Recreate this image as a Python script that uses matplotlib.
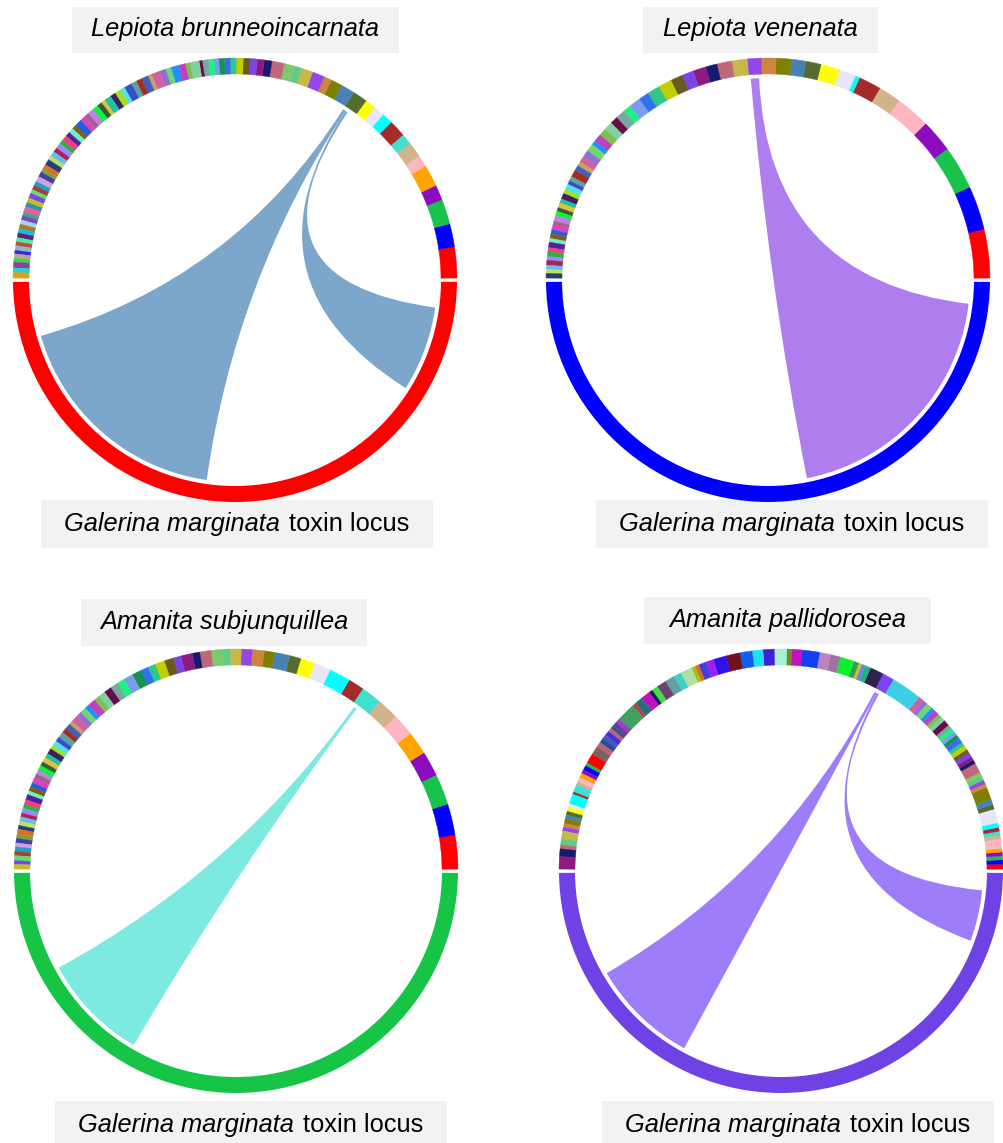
import numpy as np
import matplotlib
matplotlib.use("Agg")
import matplotlib.pyplot as plt
from matplotlib.patches import Wedge, Rectangle, PathPatch
from matplotlib.path import Path

plt.rcParams["font.family"] = ["Liberation Sans", "DejaVu Sans"]

W, H = 1004, 1143

# ---------------------------------------------------------------- labels
species = ["Lepiota brunneoincarnata", "Lepiota venenata",
           "Amanita subjunquillea", "Amanita pallidorosea"]
locus_italic = "Galerina marginata"
locus_plain = "toxin locus"

# ---------------------------------------------------------------- contig colours
HEAD = ["#FF0000", "#0000FF", "#19C24A", "#8B0BBF", "#FFA500", "#FFB6C1",
        "#D2B48C", "#40E0D0", "#A52A2A", "#00FFFF", "#E6E6FA", "#FFFF00",
        "#556B2F", "#4682B4", "#808000", "#CD853F", "#9347E8", "#C8B84A",
        "#5FCB85", "#7CCB68", "#C0687A", "#191970", "#8E1A80", "#7A44E6",
        "#6B5A1F", "#BFCF00", "#30C88A", "#3370F0", "#1A9050", "#7A9CF0",
        "#20F080", "#78A8A0", "#6A0A4A"]
TAIL = ["#80D0A0", "#7CC050", "#C040C0", "#1E90FF", "#70D870", "#9070D0",
        "#D060A0", "#C8A060", "#4060C0", "#A03020", "#60A0A0", "#3050D0",
        "#50E0F0", "#A0E020", "#402060", "#20C0A0", "#E0C040", "#306030",
        "#10F040", "#C080E0", "#A06090", "#E040C0", "#2060E0", "#806010",
        "#70F0C0", "#5020A0", "#F04080", "#30B040", "#9090F0", "#B02060",
        "#60C0F0", "#C0E060", "#204080", "#E07020", "#80A040", "#4040A0",
        "#D0A0E0", "#20A0C0", "#A04040", "#60E060", "#8040F0", "#C0C020",
        "#3090B0", "#E060A0", "#50A080", "#7050C0", "#B0D0F0", "#A08030",
        "#10C0E0", "#602080", "#40F0A0", "#D04040", "#80C0C0", "#4020E0",
        "#C0A0A0", "#30E030", "#9040A0", "#20D0D0", "#E0A010", "#5060F0"]

# ---------------------------------------------------------------- contig lengths
len_brunneo = [8, 6, 6.4, 4, 5.6, 3, 4, 2.8, 4.4, 2.8, 2.8, 2.8, 3.8, 3.5, 3,
               2, 3.2, 3, 2, 2.5, 3.2, 2, 1.8, 1.8, 1.8, 1.8, 1.5, 1.5, 1.5,
               1.2, 1.5, 1.5, 0.8,
               2.4, 1.2, 1.8, 2.0, 1.4, 1.6, 2.2, 1.0, 1.8, 1.5,
               1.4, 2.0, 1.2, 1.6, 1.4, 1.8, 1.0, 1.3, 1.6, 1.5,
               1.2, 1.4, 1.8, 1.1, 1.3, 1.2, 1.5, 1.0, 1.4, 1.2,
               1.3, 1.1, 1.5, 1.2, 1.0, 1.3, 1.4, 1.1, 1.2, 1.0,
               1.3, 1.2, 1.1, 1.4, 1.0, 1.2, 1.1, 1.3, 1.0, 1.2,
               1.1, 1.0, 1.2, 0.9, 1.1, 1.0, 1.5, 1.2, 1.4]
idx_brunneo = list(range(33))

len_venenata = [12.7, 11.5, 11.4, 8.6, 9, 5.9, 5.9, 1.2, 4.3, 5, 4, 3.7, 4,
                3.8, 3.7, 4, 3.9, 3, 3.4, 3, 3.2, 3.5, 3.3, 2.7, 3, 2, 2.5, 2,
                2.2, 2.0, 2.0, 1.2, 2.0, 1.8, 1.6, 1.2, 1.4, 1.8, 1.2, 1.0,
                1.4, 1.2, 1.5, 1.1, 1.3, 1.0, 1.2, 1.4, 1.0, 1.3, 1.1, 1.2,
                1.0, 1.4, 1.1, 1.2, 1.0, 1.3, 1.1, 1.0, 1.2]
idx_venenata = [0, 1, 2, 3, 5, 6, 8, 9, 10, 11, 12, 13, 14, 15, 16, 17, 20,
                21, 22, 23, 24, 25, 26, 27, 29, 30, 31, 32]

len_subjunq = [8.9, 8.2, 8.1, 6.6, 6.1, 5.8, 5.7, 5.4, 4.2, 5.6, 4.3, 3.8, 3.0,
               4.0, 2.7, 3.1, 2.9, 2.9, 2.1, 2.8, 3.0, 2.0, 3.0, 2.0, 2.5, 2.5,
               2.0, 2.0, 2.5, 2.5, 2.0, 2.0, 2.0,
               1.8, 1.5, 2.0, 1.2, 1.6, 1.4, 1.8, 1.0, 1.5, 1.3,
               1.6, 1.2, 1.4, 1.0, 1.5, 1.2, 1.3, 1.1, 1.4, 1.0,
               1.2, 1.3, 1.1, 1.2, 1.0, 1.4, 1.2, 1.1, 1.3, 1.0,
               1.2, 1.1, 1.0, 1.3, 1.1, 1.2, 1.0, 1.2, 1.1, 1.3,
               1.0, 1.2]
idx_subjunq = list(range(33))

len_pallido_a = [1.3, 1.1, 1.0, 1.0, 1.0, 2.4, 1.0, 1.0, 1.0, 1.2, 3.6, 1.2,
                 1.4, 3.3, 1.0, 1.0, 1.2, 1.0, 2.6, 1.0, 1.0, 1.2, 1.0, 1.2,
                 1.0, 1.4, 1.0, 1.0, 1.2, 1.0, 1.6,
                 1.2, 1.0, 1.4, 1.0, 1.6, 1.2, 1.4]
idx_pallido_a = [0, 1, 2, 3, 4, 5, 6, 7, 8, 9, 10, 12, 13, 14, 15, 16, 18, 19,
                 20, 21, 22, 23, 24, 25, 26, 27, 28, 29, 30, 31, 32]
len_pallido_m = [8, 3, 3.5, 1.5, 1, 0.8, 1.3, 3.7, 2.5, 2.9, 4.5, 2.7, 1.3,
                 3.2, 2.9, 2.8, 3.2, 3.6, 3.4, 2, 2, 1, 1, 3, 2, 2.5, 2.5, 1.6,
                 0.9, 2.5, 2, 1, 4.8, 1.2, 1, 1, 1, 1.2, 1.2, 1.2, 1.4, 2.2]
col_pallido_m = ["#3ECFE8", "#7A44F0", "#2E2050", "#20B080", "#7080F0",
                 "#C8C030", "#30A050", "#10EE30", "#A070A0", "#C080C0",
                 "#1040F0", "#C010C0", "#6B8E23", "#A8F0D8", "#4020D0",
                 "#20E0F0", "#1060F0", "#701020", "#3010F0", "#A020F0",
                 "#4040E0", "#E07010", "#A0C020", "#B0E0A0", "#40D0C8",
                 "#60A0A0", "#704070", "#40E040", "#1A1A60", "#C010C0",
                 "#207080", "#C04040", "#40A060", "#A040C0", "#6040A0",
                 "#405080", "#C06080", "#4030E0", "#5050C0", "#2050A0",
                 "#C06070", "#806060"]
len_pallido_b = [2.6, 0.8, 1.2, 1.0, 1.2, 1.2, 0.8, 2.0, 0.6, 2.6, 1.0, 1.0,
                 1.0, 1.0, 1.2, 1.0, 1.0, 2.0, 1.6, 1.0, 2.0, 3.2]
idx_pallido_b = [0, 2, 1, 3, 4, 5, 6, 7, 8, 9, 10, 11, 12, 13, 14, 15, 16, 17,
                 18, 20, 21, 22]

# ---------------------------------------------------------------- links
# (contig index, start fraction, end fraction, locus start %, locus end %)
links_brunneo = [(12, 0.79, 1.00, 8.7, 45.5), (12, 0.60, 0.79, 82.2, 95.9)]
links_venenata = [(14, 0.22, 0.86, 56.2, 96.5)]
links_subjunq = [(7, 0.67, 0.83, 15.7, 33.0)]
links_pallido = [(39, 0.70, 0.93, 16.7, 34.0), (39, 0.47, 0.70, 89.0, 97.2)]


def contig_colours(head_idx, n_total):
    cols = [HEAD[i] for i in head_idx]
    return cols + TAIL[:n_total - len(cols)]


col_brunneo = contig_colours(idx_brunneo, len(len_brunneo))
col_venenata = contig_colours(idx_venenata, len(len_venenata))
col_subjunq = contig_colours(idx_subjunq, len(len_subjunq))
len_pallido = len_pallido_a + len_pallido_m + len_pallido_b
col_pallido = ([HEAD[i] for i in idx_pallido_a] + TAIL[:len(len_pallido_a) - len(idx_pallido_a)]
               + col_pallido_m + [HEAD[i] for i in idx_pallido_b])

panels = [
    dict(center=(235, 280), lengths=len_brunneo, colors=col_brunneo,
         locus_color="#FF0000", link_color="#7DA7CA", links=links_brunneo,
         title=species[0], title_box=(72, 7, 399, 53), label_box=(41, 500, 433, 548)),
    dict(center=(768, 280), lengths=len_venenata, colors=col_venenata,
         locus_color="#0000FF", link_color="#AE7DEE", links=links_venenata,
         title=species[1], title_box=(643, 7, 878, 53), label_box=(596, 500, 988, 548)),
    dict(center=(236, 871), lengths=len_subjunq, colors=col_subjunq,
         locus_color="#16C546", link_color="#7DEADF", links=links_subjunq,
         title=species[2], title_box=(81, 599, 367, 646), label_box=(55, 1101, 447, 1150)),
    dict(center=(781, 871), lengths=len_pallido, colors=col_pallido,
         locus_color="#6E42E4", link_color="#9D7DF9", links=links_pallido,
         title=species[3], title_box=(644, 597, 931, 644), label_box=(602, 1101, 994, 1150)),
]

R_OUT, RING_W, R_LINK = 222, 16, 202
HALF_GAP = 0.5
SPAN = 180 - 2 * HALF_GAP
FS = 18.3
BOX_COLOR = "#F2F2F2"

fig = plt.figure(figsize=(W / 100, H / 100), dpi=100)
ax = fig.add_axes([0, 0, 1, 1])
ax.set_xlim(0, W)
ax.set_ylim(0, H)
ax.axis("off")
renderer = fig.canvas.get_renderer()


def arc_pts(c, r, a0, a1, n=80):
    t = np.radians(np.linspace(a0, a1, n))
    return np.column_stack([c[0] + r * np.cos(t), c[1] + r * np.sin(t)])


def ribbon(c, a0, a1, b0, b1, color):
    A = arc_pts(c, R_LINK, a0, a1)
    B = arc_pts(c, R_LINK, b0, b1)
    verts = list(A) + [c, B[0]] + list(B[1:]) + [c, A[0], A[0]]
    codes = ([Path.MOVETO] + [Path.LINETO] * (len(A) - 1) + [Path.CURVE3, Path.CURVE3]
             + [Path.LINETO] * (len(B) - 1) + [Path.CURVE3, Path.CURVE3, Path.CLOSEPOLY])
    ax.add_patch(PathPatch(Path(verts, codes), fc=color, ec="none", zorder=2))


def box(b):
    x0, y0, x1, y1 = b
    ax.add_patch(Rectangle((x0, H - y1), x1 - x0, y1 - y0, fc=BOX_COLOR, ec="none", zorder=1))


for p in panels:
    c = (p["center"][0], H - p["center"][1])
    L = np.asarray(p["lengths"], dtype=float)
    edges = HALF_GAP + np.concatenate([[0], np.cumsum(L)]) / L.sum() * SPAN

    # contigs of the other genome on the upper half
    for i, col in enumerate(p["colors"]):
        ax.add_patch(Wedge(c, R_OUT, edges[i], edges[i + 1], width=RING_W,
                           fc=col, ec=col, lw=0.3, zorder=3))
    # toxin locus on the lower half
    ax.add_patch(Wedge(c, R_OUT, 180 + HALF_GAP, 360 - HALF_GAP, width=RING_W,
                       fc=p["locus_color"], ec="none", zorder=3))

    for k, f0, f1, q0, q1 in p["links"]:
        a0 = edges[k] + f0 * (edges[k + 1] - edges[k])
        a1 = edges[k] + f1 * (edges[k + 1] - edges[k])
        b0 = 180 + HALF_GAP + q0 / 100 * SPAN
        b1 = 180 + HALF_GAP + q1 / 100 * SPAN
        ribbon(c, a0, a1, b0, b1, p["link_color"])

    # species title
    box(p["title_box"])
    tb = p["title_box"]
    ax.text((tb[0] + tb[2]) / 2, H - (tb[1] + tb[3]) / 2 + 1, p["title"],
            fontsize=FS, style="italic", ha="center", va="center", zorder=4)

    # locus label: italic genus/species followed by plain text
    box(p["label_box"])
    lb = p["label_box"]
    ly = H - min((lb[1] + lb[3]) / 2, lb[1] + 24)
    t1 = ax.text(0, ly, locus_italic, fontsize=FS, style="italic",
                 ha="left", va="center", zorder=4)
    t2 = ax.text(0, ly, locus_plain, fontsize=FS, ha="left", va="center", zorder=4)
    w1 = t1.get_window_extent(renderer).width
    w2 = t2.get_window_extent(renderer).width
    gap = 9
    x0 = (lb[0] + lb[2]) / 2 - (w1 + gap + w2) / 2
    t1.set_x(x0)
    t2.set_x(x0 + w1 + gap)

fig.savefig("out.png", dpi=100, facecolor="white")
